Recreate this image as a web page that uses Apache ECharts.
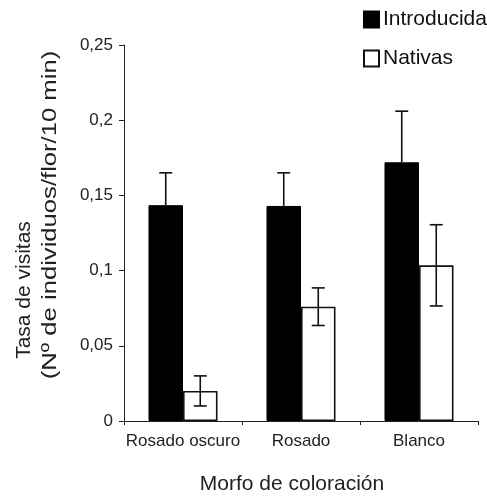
<!DOCTYPE html>
<html>
<head>
<meta charset="utf-8">
<script src="https://cdn.jsdelivr.net/npm/echarts@6/dist/echarts.min.js"></script>
<style>
  html, body { margin: 0; padding: 0; background: #fff; }
  #chart { width: 487px; height: 496px; }
</style>
</head>
<body>
<div id="chart"></div>
<script>
var categories = ['Rosado oscuro', 'Rosado', 'Blanco'];
var introducida = [0.1435, 0.143, 0.172];
var introducidaErr = [0.0215, 0.022, 0.034];
var nativas = [0.020, 0.076, 0.1035];
var nativasErr = [0.010, 0.0125, 0.027];

var FONT = 'Liberation Sans, Arial, sans-serif';
var CAT_GAP = 0.415;

// error bars over each bar, moved to its half of the group; upperOnly for the black bars
var errorBars = function(values, errs, side, upperOnly){
    var data = values.map(function(v, i){ return [i, v, v - errs[i], v + errs[i]]; });
    return {
        type: 'custom',
        z: 10,
        data: data,
        encode: { x: 0, y: [1, 2, 3] },
        renderItem: function(params, api){
            var band = api.size([1, 0])[0];
            var barW = band * (1 - CAT_GAP) / 2;
            var mid = api.coord([api.value(0), api.value(1)]);
            var lo = api.coord([api.value(0), api.value(2)]);
            var hi = api.coord([api.value(0), api.value(3)]);
            var x = mid[0] + side * barW / 2;
            var cap = 6.5;
            var st = { stroke: '#111', lineWidth: 1.6 };
            var kids = [
                { type: 'line', shape: { x1: x, y1: upperOnly ? mid[1] : lo[1], x2: x, y2: hi[1] }, style: st },
                { type: 'line', shape: { x1: x - cap, y1: hi[1], x2: x + cap, y2: hi[1] }, style: st }
            ];
            if(!upperOnly){
                kids.push({ type: 'line', shape: { x1: x - cap, y1: lo[1], x2: x + cap, y2: lo[1] }, style: st });
            }
            return { type: 'group', children: kids };
        }
    };
};

var chart = echarts.init(document.getElementById('chart'));
chart.setOption({
    animation: false,
    backgroundColor: '#fff',
    textStyle: { fontFamily: FONT },
    grid: { left: 124, right: 9, top: 45, bottom: 75, outerBoundsMode: 'none' },
    legend: {
        orient: 'vertical',
        left: 363,
        top: 9,
        padding: 0,
        itemWidth: 15,
        itemHeight: 16,
        itemGap: 18,
        icon: 'rect',
        data: ['Introducida', 'Nativas'],
        textStyle: { fontSize: 21, color: '#111', padding: [0, 0, 0, -1] }
    },
    graphic: [
        {
            type: 'text', x: 24, y: 290, rotation: Math.PI / 2,
            style: { text: 'Tasa de visitas', font: '21px ' + FONT, fill: '#222', textAlign: 'center', textVerticalAlign: 'middle' }
        },
        {
            type: 'text', x: 50, y: 215, rotation: Math.PI / 2, scaleX: 1.22,
            style: { text: '(Nº de individuos/flor/10 min)', font: '21px ' + FONT, fill: '#222', textAlign: 'center', textVerticalAlign: 'middle' }
        }
    ],
    xAxis: {
        type: 'category',
        data: categories,
        name: 'Morfo de coloración',
        nameLocation: 'middle',
        nameGap: 53,
        nameTextStyle: { fontSize: 21, color: '#222', padding: [0, 18, 0, 0] },
        axisLine: { lineStyle: { color: '#222', width: 1 } },
        axisTick: { show: true, length: 4, lineStyle: { color: '#222' } },
        axisLabel: { fontSize: 17, color: '#222', margin: 12, interval: 0 }
    },
    yAxis: {
        type: 'value',
        min: 0,
        max: 0.25,
        interval: 0.05,
        splitLine: { show: false },
        axisLine: { show: true, lineStyle: { color: '#222', width: 1 } },
        axisTick: { show: true, length: 5, lineStyle: { color: '#222' } },
        axisLabel: {
            fontSize: 17,
            color: '#222',
            margin: 11,
            formatter: function(v){ return String(+v.toFixed(2)).replace('.', ','); }
        }
    },
    series: [
        {
            name: 'Introducida',
            type: 'bar',
            data: introducida,
            barGap: '0%',
            barCategoryGap: (CAT_GAP * 100) + '%',
            itemStyle: { color: '#000', borderColor: '#000', borderWidth: 1 }
        },
        {
            name: 'Nativas',
            type: 'bar',
            data: nativas,
            itemStyle: { color: '#fff', borderColor: '#111', borderWidth: 1.6 }
        },
        errorBars(introducida, introducidaErr, -1, true),
        errorBars(nativas, nativasErr, 1, false)
    ]
});
</script>
</body>
</html>
